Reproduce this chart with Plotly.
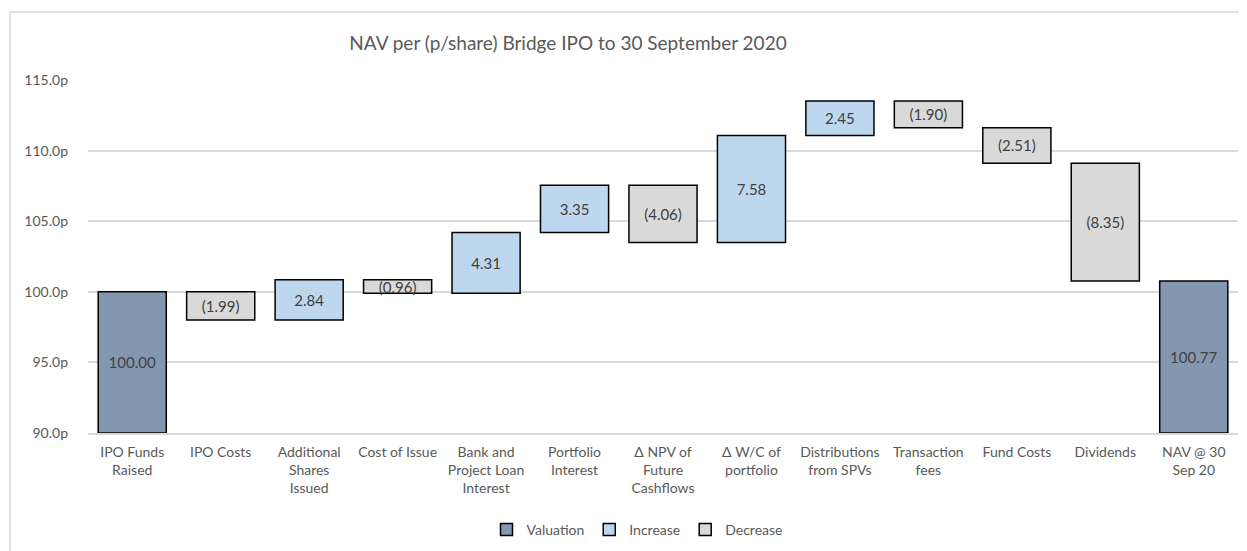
import plotly.graph_objects as go

categories = ["IPO Funds<br>Raised", "IPO Costs", "Additional<br>Shares<br>Issued", "Cost of Issue",
              "Bank and<br>Project Loan<br>Interest", "Portfolio<br>Interest", "Δ NPV of<br>Future<br>Cashflows",
              "Δ W/C of<br>portfolio", "Distributions<br>from SPVs", "Transaction<br>fees", "Fund Costs",
              "Dividends", "NAV @ 30<br>Sep 20"]
changes = [100.00, -1.99, 2.84, -0.96, 4.31, 3.35, -4.06, 7.58, 2.45, -1.90, -2.51, -8.35, 100.77]
kinds = ["Valuation", "Decrease", "Increase", "Decrease", "Increase", "Increase", "Decrease",
         "Increase", "Increase", "Decrease", "Decrease", "Decrease", "Valuation"]
y_ticks = [90, 95, 100, 105, 110, 115]
y_tick_labels = ["90.0p", "95.0p", "100.0p", "105.0p", "110.0p", "115.0p"]

colors = {"Valuation": "#8497B0", "Increase": "#BDD7EE", "Decrease": "#D9D9D9"}
FONT = "Lato"
axis_min = y_ticks[0]

# compute bases / heights for the waterfall (totals drawn from the axis floor, as in Excel)
bases, heights = [], []
running = 0.0
for v, k in zip(changes, kinds):
    if k == "Valuation":
        bases.append(axis_min)
        heights.append(v - axis_min)
        running = v
    elif v >= 0:
        bases.append(running)
        heights.append(v)
        running += v
    else:
        running += v
        bases.append(running)
        heights.append(-v)

def label(v):
    return f"({abs(v):.2f})" if v < 0 else f"{v:.2f}"

fig = go.Figure()
for name in ["Valuation", "Increase", "Decrease"]:
    ys, bs, ts = [], [], []
    for v, k, b, h in zip(changes, kinds, bases, heights):
        if k == name:
            ys.append(h); bs.append(b); ts.append(label(v))
        else:
            ys.append(None); bs.append(None); ts.append("")
    fig.add_trace(go.Bar(
        x=categories, y=ys, base=bs, name=name, text=ts,
        textposition="inside", insidetextanchor="middle", textangle=0,
        constraintext="none",
        textfont=dict(family=FONT, size=15, color="#404040"),
        marker=dict(color=colors[name], line=dict(color="#000000", width=1.5)),
        hoverinfo="skip",
    ))

# page body has an 8px margin: work in screen pixels and shift
OFF = 8
W, H = 1247 - OFF, 551 - OFF
L = 88 - OFF
T = 80 - OFF
R = W - (1238 - OFF)
B = H - (433 - OFF)
pw, ph = W - L - R, H - T - B

def px(x):
    return (x - OFF - L) / pw

def py(y):
    return (H - B - (y - OFF)) / ph

fig.update_layout(
    width=W, height=H,
    margin=dict(l=L, r=R, t=T, b=B, autoexpand=False),
    barmode="overlay", bargap=0.23,
    paper_bgcolor="white", plot_bgcolor="white",
    font=dict(family=FONT, color="#595959", size=14),
    title=dict(text="NAV per (p/share) Bridge IPO to 30 September 2020",
               x=(568 - OFF) / W, xanchor="center", y=1 - (43 - OFF) / H, yanchor="middle",
               yref="container", xref="container",
               font=dict(family=FONT, size=19, color="#595959")),
    legend=dict(orientation="h", x=px(637), xanchor="center", y=py(530), yanchor="middle",
                font=dict(family=FONT, size=14, color="#595959"),
                itemwidth=30, traceorder="normal", tracegroupgap=0),
    showlegend=True,
    xaxis=dict(showgrid=False, showline=True, linecolor="#D9D9D9", linewidth=1.5,
               tickfont=dict(family=FONT, size=14, color="#595959"), ticks="",
               ticklabelstandoff=5, fixedrange=True, automargin=False),
    yaxis=dict(range=[90, 115], tickvals=y_ticks, ticktext=y_tick_labels,
               showgrid=True, gridcolor="#D9D9D9", gridwidth=1.5, zeroline=False,
               ticks="", ticklabelstandoff=19, automargin=False,
               tickfont=dict(family=FONT, size=14, color="#595959"), fixedrange=True),
    shapes=[dict(type="rect", xref="paper", yref="paper",
                 x0=px(10), x1=px(1270), y0=py(600), y1=py(12),
                 line=dict(color="#D9D9D9", width=1.5), fillcolor="rgba(0,0,0,0)", layer="below")],
)

fig.write_html("out.html")
